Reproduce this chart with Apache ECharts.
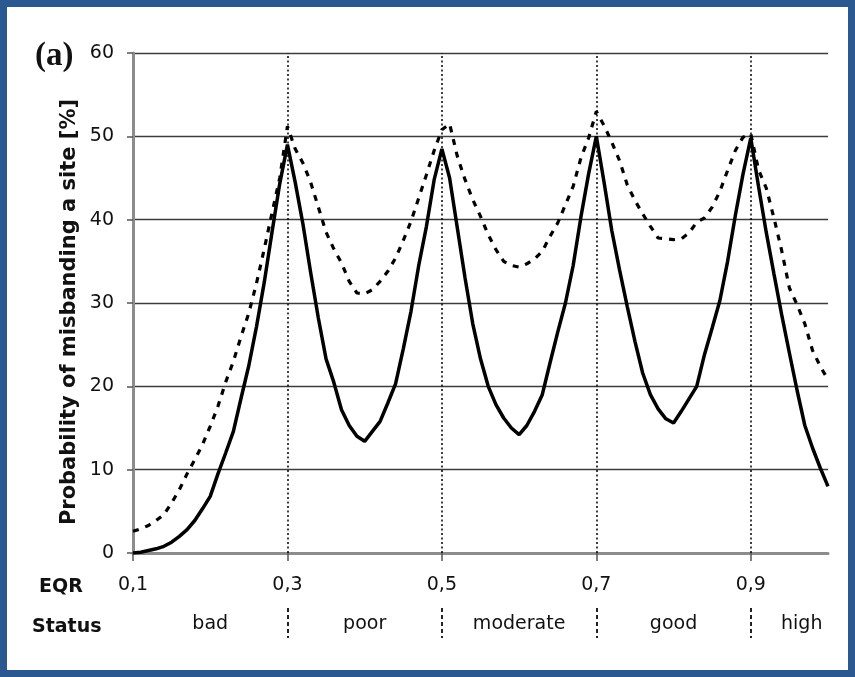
<!DOCTYPE html>
<html>
<head>
<meta charset="utf-8">
<script src="https://cdn.jsdelivr.net/npm/echarts@6/dist/echarts.min.js"></script>
<style>
  html, body { margin: 0; padding: 0; background: #ffffff; }
  #wrap { width: 855px; height: 677px; box-sizing: border-box; border: 7px solid #2c5892; background: #ffffff; }
  #chart { width: 841px; height: 663px; }
</style>
</head>
<body>
<div id="wrap"><div id="chart"></div></div>
<script>
// EQR sample positions
const eqr = [0.10,0.11,0.12,0.13,0.14,0.15,0.16,0.17,0.18,0.19,
             0.20,0.21,0.22,0.23,0.24,0.25,0.26,0.27,0.28,0.29,
             0.30,0.31,0.32,0.33,0.34,0.35,0.36,0.37,0.38,0.39,
             0.40,0.41,0.42,0.43,0.44,0.45,0.46,0.47,0.48,0.49,
             0.50,0.51,0.52,0.53,0.54,0.55,0.56,0.57,0.58,0.59,
             0.60,0.61,0.62,0.63,0.64,0.65,0.66,0.67,0.68,0.69,
             0.70,0.71,0.72,0.73,0.74,0.75,0.76,0.77,0.78,0.79,
             0.80,0.81,0.82,0.83,0.84,0.85,0.86,0.87,0.88,0.89,
             0.90,0.91,0.92,0.93,0.94,0.95,0.96,0.97,0.98,0.99,
             1.00];
// solid curve (%)
const solidVals = [0, 0.1, 0.3, 0.5, 0.8, 1.3, 2.0, 2.8, 3.9, 5.3,
                   6.8, 9.5, 12, 14.6, 18.6, 22.5, 27.2, 32.5, 38.5, 44.3,
                   49, 44.5, 39.5, 33.7, 28.2, 23.3, 20.5, 17.2, 15.3, 14,
                   13.4, 14.6, 15.8, 18, 20.3, 24.5, 29, 34.5, 39.2, 44.8,
                   48.5, 45, 39, 33, 27.5, 23.3, 20, 17.8, 16.2, 15,
                   14.2, 15.3, 17, 19, 22.8, 26.5, 30, 34.5, 40.3, 45.5,
                   50, 44.5, 38.7, 34, 29.6, 25.4, 21.6, 19, 17.3, 16.1,
                   15.6, 17, 18.5, 20, 23.8, 27, 30.3, 35, 40.5, 45.5,
                   49.8, 44, 38.5, 33.5, 28.6, 24, 19.5, 15.3, 12.6, 10.2,
                   8];
// dashed curve (%)
const dashedVals = [2.6, 2.9, 3.3, 3.9, 4.6, 6.0, 7.6, 9.5, 11.2, 13,
                    15.2, 17.6, 20.5, 23, 26, 28.8, 32.4, 36.5, 40.8, 45,
                    51.2, 48.5, 46.8, 44.5, 41.5, 38.5, 36.5, 34.8, 32.6, 31.2,
                    31.1, 31.6, 32.6, 33.8, 35.4, 37.5, 39.8, 42.6, 45.4, 48.3,
                    50.8, 51.5, 47.6, 44.8, 42.4, 40.4, 38.2, 36.4, 35, 34.5,
                    34.3, 34.7, 35.3, 36.2, 38, 39.6, 41.8, 44, 47.4, 49.8,
                    53, 51.3, 49.3, 47.1, 44.2, 42.3, 40.7, 39.2, 37.8, 37.7,
                    37.6, 37.7, 38.4, 39.7, 40.2, 41.5, 43.4, 45.9, 48.3, 49.9,
                    50.3, 46, 43.8, 40.2, 36.3, 31.8, 29.8, 27.5, 24.3, 22.4,
                    20.8];
// axis ticks / labels
const eqrTicks = [0.1, 0.3, 0.5, 0.7, 0.9];
const boundaries = [0.3, 0.5, 0.7, 0.9];
const statusNames = ['bad', 'poor', 'moderate', 'good', 'high'];
const statusPos = [0.2, 0.4, 0.6, 0.8, 0.966];
const yTicks = [0, 10, 20, 30, 40, 50, 60];

const FONT = 'DejaVu Sans';
const chart = echarts.init(document.getElementById('chart'), null, { renderer: 'canvas' });

const option = {
  animation: false,
  backgroundColor: '#ffffff',
  grid: { left: 126, top: 46, right: 20, bottom: 117, containLabel: false },
  xAxis: [
    {
      type: 'value', min: 0.1, max: 1.0,
      axisLine: { show: true, lineStyle: { color: '#8c8c8c', width: 3 } },
      axisTick: { show: true, customValues: eqrTicks, length: 8, lineStyle: { color: '#555', width: 1.5 } },
      axisLabel: {
        customValues: eqrTicks, margin: 23,
        fontFamily: FONT, fontSize: 19, color: '#111',
        formatter: v => v.toFixed(1).replace('.', ',')
      },
      splitLine: { show: false }
    },
    {
      type: 'value', min: 0.1, max: 1.0, position: 'bottom', offset: 55,
      axisLine: { show: false },
      axisTick: { show: true, customValues: boundaries, length: 30, lineStyle: { color: '#222', width: 2, type: [4, 3] } },
      axisLabel: {
        customValues: statusPos, margin: 7,
        fontFamily: FONT, fontSize: 19, color: '#111',
        formatter: v => {
          let best = 0;
          statusPos.forEach((p, i) => { if (Math.abs(p - v) < Math.abs(statusPos[best] - v)) best = i; });
          return statusNames[best];
        }
      },
      splitLine: { show: false }
    }
  ],
  yAxis: {
    type: 'value', min: yTicks[0], max: yTicks[yTicks.length - 1], interval: 10,
    axisLine: { show: true, lineStyle: { color: '#8c8c8c', width: 3 } },
    axisTick: { show: true, inside: false, length: 6, lineStyle: { color: '#555', width: 1.5 } },
    axisLabel: { margin: 19, fontFamily: FONT, fontSize: 19, color: '#111' },
    splitLine: { show: true, lineStyle: { color: '#3c3c3c', width: 1.3 } }
  },
  graphic: [
    { type: 'text', left: 28, top: 33, style: { text: '(a)', font: 'bold 33px "Liberation Serif"', fill: '#111' } },
    { type: 'text', x: 32, y: 580, style: { text: 'EQR', font: 'bold 19px "DejaVu Sans"', fill: '#111', textVerticalAlign: 'middle' } },
    { type: 'text', x: 25, y: 620, style: { text: 'Status', font: 'bold 19px "DejaVu Sans"', fill: '#111', textVerticalAlign: 'middle' } },
    { type: 'text', x: 63, y: 305, rotation: Math.PI / 2,
      style: { text: 'Probability of misbanding a site [%]', font: 'bold 21px "DejaVu Sans"', fill: '#111', textAlign: 'center', textVerticalAlign: 'middle' } }
  ],
  series: [
    {
      name: 'solid', type: 'line', xAxisIndex: 0,
      data: eqr.map((x, i) => [x, solidVals[i]]),
      showSymbol: false, smooth: false,
      lineStyle: { color: '#000', width: 3.5 },
      markLine: {
        silent: true, symbol: ['none', 'none'], label: { show: false },
        lineStyle: { color: '#000', type: [2, 2.5], width: 1.5 },
        data: boundaries.map(b => ({ xAxis: b }))
      },
      z: 3
    },
    {
      name: 'dashed', type: 'line', xAxisIndex: 0,
      data: eqr.map((x, i) => [x, dashedVals[i]]),
      showSymbol: false, smooth: false,
      lineStyle: { color: '#000', width: 3.2, type: [6, 7] },
      z: 3
    }
  ]
};
chart.setOption(option);
</script>
</body>
</html>
